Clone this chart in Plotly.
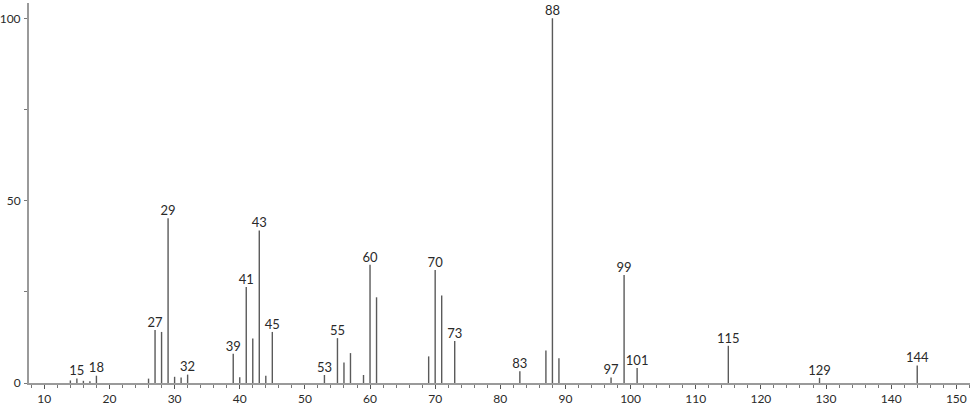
import plotly.graph_objects as go

# m/z and relative intensity (%)
mz = [14, 15, 16, 17, 18, 26, 27, 28, 29, 30, 31, 32, 39, 40, 41, 42, 43, 44, 45,
      53, 55, 56, 57, 59, 60, 61, 69, 70, 71, 73, 83, 87, 88, 89, 97, 99, 101,
      115, 129, 144]
intensity = [0.7, 1.2, 0.6, 0.5, 2.0, 1.2, 14.5, 14.0, 45.2, 1.7, 1.5, 2.3, 8.0, 1.6,
             26.3, 12.2, 41.8, 2.0, 14.0, 2.2, 12.3, 5.6, 8.2, 2.2, 32.4, 23.5, 7.3,
             31.0, 24.0, 11.5, 3.2, 8.9, 100.0, 6.8, 1.5, 29.6, 4.1, 10.2, 1.4, 4.8]

# peaks that carry a label
labelled = [15, 18, 27, 29, 32, 39, 41, 43, 45, 53, 55, 60, 70, 73, 83, 88, 97, 99,
            101, 115, 129, 144]

FONT = "Lato"
INK = "#2a2a2a"
STICK = "#5a5a5a"
AXIS = "#9a9a9a"

# stick spectrum: one vertical segment per peak
xs, ys = [], []
for m, h in zip(mz, intensity):
    xs += [m, m, None]
    ys += [0, h, None]

lab_y = [h for m, h in zip(mz, intensity) if m in labelled]
lab_x = [m for m in mz if m in labelled]

fig = go.Figure()
fig.add_trace(go.Scatter(x=xs, y=ys, mode="lines", line=dict(color=STICK, width=1.4),
                         hoverinfo="skip", showlegend=False))
fig.add_trace(go.Scatter(x=lab_x, y=lab_y, mode="text", text=[str(m) for m in lab_x],
                         textposition="top center",
                         textfont=dict(family=FONT, size=13, color=INK),
                         showlegend=False, cliponaxis=False))

fig.update_layout(
    width=974, height=406,
    margin=dict(l=29, r=4, t=3, b=23),
    plot_bgcolor="white", paper_bgcolor="white",
    font=dict(family=FONT, size=13, color=INK),
    xaxis=dict(range=[7.65, 152.1], showgrid=False, zeroline=False, automargin=False,
               showline=True, linecolor=AXIS, linewidth=1.5,
               tickvals=list(range(10, 151, 10)), ticks="outside", ticklen=4,
               tickcolor="#555", tickwidth=1,
               minor=dict(dtick=2, tick0=0, ticks="outside", ticklen=3, tickcolor="#777"),
               tickfont=dict(family=FONT, size=12, color=INK)),
    yaxis=dict(range=[0, 104.2], showgrid=False, zeroline=False, automargin=False,
               showline=True, linecolor=AXIS, linewidth=2,
               tickvals=[0, 50, 100], ticks="outside", ticklen=3,
               tickcolor="#777", tickwidth=1, ticklabelstandoff=1,
               minor=dict(tickvals=[25, 75], ticks="outside", ticklen=3, tickcolor="#777"),
               tickfont=dict(family=FONT, size=12, color=INK)),
)

# the page body has a default 8px margin; drop it so the figure sits at the corner
fig.write_html("out.html", config={"displayModeBar": False},
               post_script="document.body.style.margin='0';")
